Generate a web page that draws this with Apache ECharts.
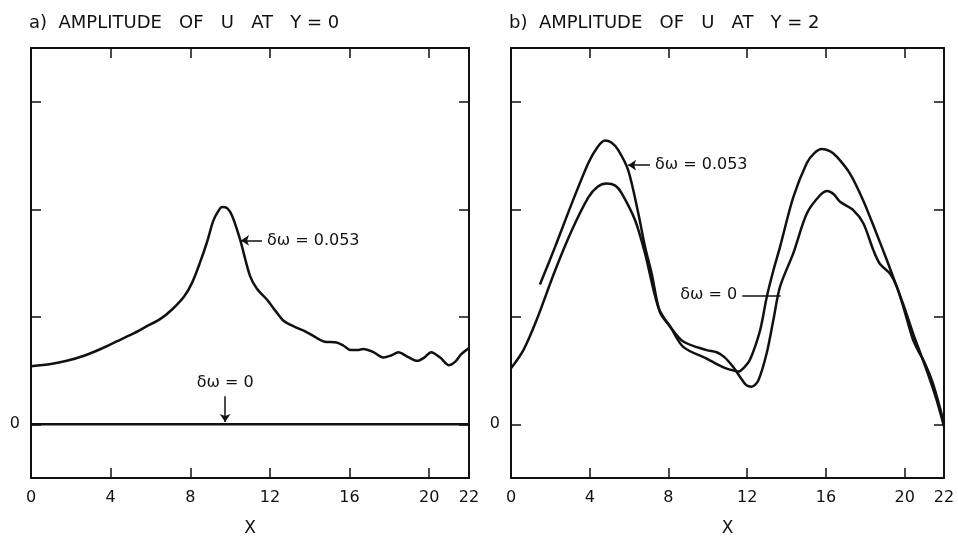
<!DOCTYPE html>
<html>
<head>
<meta charset="utf-8">
<script src="https://cdn.jsdelivr.net/npm/echarts@6/dist/echarts.min.js"></script>
<style>
    html, body { margin: 0; padding: 0; background: #fff; }
    #chart { width: 958px; height: 539px; }
</style>
</head>
<body>
<div id="chart"></div>
<script>
// x tick labels and y ticks (shared by both panels)
const xTickValues = [0, 4, 8, 12, 16, 20];
const xLabelValues = [0, 4, 8, 12, 16, 20, 22];
const yTickValues = [0, 1, 2, 3];
const yLabelValues = [0];

// a) amplitude of U at Y=0
const aX053 = [0, 1, 1.8, 2.7, 3.5, 4.3, 5.1, 5.8, 6.5, 7.1, 7.7, 8.1, 8.5, 8.85, 9.15, 9.4, 9.6, 9.85, 10.1, 10.5, 11.0, 11.35, 11.85, 12.3, 12.7, 13.2, 13.7, 14.2, 14.7, 15.35, 15.7, 16.05, 16.4, 16.7, 17.2, 17.7, 18.1, 18.45, 18.9, 19.4, 19.75, 20.1, 20.55, 21.0, 21.3, 21.6, 22];
const aY053 = [0.54, 0.56, 0.59, 0.64, 0.70, 0.77, 0.84, 0.91, 0.98, 1.07, 1.19, 1.32, 1.51, 1.70, 1.89, 1.98, 2.02, 2.01, 1.94, 1.72, 1.38, 1.26, 1.16, 1.05, 0.96, 0.91, 0.87, 0.82, 0.77, 0.76, 0.73, 0.69, 0.69, 0.70, 0.67, 0.62, 0.64, 0.67, 0.63, 0.59, 0.62, 0.67, 0.62, 0.55, 0.58, 0.65, 0.71];
const aX0 = [0, 22];
const aY0 = [0, 0];

// b) amplitude of U at Y=2
const bX053 = [1.47, 2.24, 3.08, 3.93, 4.4, 4.78, 5.1, 5.45, 5.96, 6.47, 6.81, 7.15, 7.57, 8.08, 8.75, 9.94, 10.79, 11.3, 11.55, 11.8, 12.14, 12.65, 12.99, 13.33, 13.67, 14.34, 15.03, 15.4, 15.79, 16.2, 16.55, 17.23, 17.9, 18.58, 19.09, 19.6, 20.0, 20.4, 20.8, 21.2, 21.6, 22];
const bY053 = [1.30, 1.65, 2.05, 2.43, 2.58, 2.64, 2.62, 2.55, 2.36, 1.96, 1.65, 1.40, 1.04, 0.91, 0.72, 0.61, 0.53, 0.50, 0.49, 0.52, 0.60, 0.87, 1.18, 1.43, 1.65, 2.11, 2.43, 2.52, 2.56, 2.54, 2.49, 2.33, 2.08, 1.77, 1.53, 1.28, 1.08, 0.86, 0.66, 0.46, 0.24, -0.02];
const bX0 = [0, 0.63, 1.3, 2.24, 3.08, 3.93, 4.4, 4.86, 5.3, 5.62, 6.3, 6.81, 7.48, 8.08, 8.75, 9.94, 10.45, 10.87, 11.3, 11.64, 11.98, 12.23, 12.57, 12.99, 13.33, 13.67, 14.34, 15.03, 15.7, 16.07, 16.4, 16.72, 17.4, 17.9, 18.41, 18.75, 19.26, 19.6, 20.0, 20.4, 20.7, 21.0, 21.4, 21.8, 22];
const bY0 = [0.52, 0.69, 0.97, 1.43, 1.80, 2.11, 2.21, 2.24, 2.22, 2.15, 1.90, 1.59, 1.09, 0.91, 0.77, 0.69, 0.67, 0.62, 0.53, 0.44, 0.36, 0.35, 0.41, 0.66, 0.97, 1.28, 1.59, 1.96, 2.13, 2.17, 2.14, 2.07, 1.99, 1.87, 1.62, 1.49, 1.40, 1.28, 1.05, 0.80, 0.68, 0.58, 0.40, 0.15, 0];

const FONT = 'DejaVu Sans';
const INK = '#111';

function pairs(xs, ys) {
    return xs.map((x, i) => [x, ys[i]]);
}

// 注释箭头
function pointer(from, to, text, withArrow) {
    return {
        silent: true,
        animation: false,
        symbol: ['none', withArrow ? 'arrow' : 'none'],
        symbolSize: 8,
        lineStyle: { color: INK, width: 1.5, type: 'solid' },
        label: {
            show: true,
            position: 'start',
            distance: 5,
            formatter: text,
            color: INK,
            fontFamily: FONT,
            fontSize: 16
        },
        data: [[{ coord: from }, { coord: to }]]
    };
}

function xAxes(gridIndex) {
    const base = {
        gridIndex: gridIndex,
        type: 'value',
        min: 0,
        max: 22,
        splitLine: { show: false },
        axisLine: { show: true, onZero: false, lineStyle: { color: INK, width: 2 } },
        axisTick: { show: true, inside: true, length: 10, customValues: xTickValues, lineStyle: { color: INK, width: 1.5 } }
    };
    return [
        Object.assign({}, base, {
            position: 'bottom',
            name: 'X',
            nameLocation: 'middle',
            nameGap: 42,
            nameTextStyle: { color: INK, fontFamily: FONT, fontSize: 17 },
            axisLabel: { show: true, customValues: xLabelValues, margin: 12, color: INK, fontFamily: FONT, fontSize: 16 }
        }),
        Object.assign({}, base, { position: 'top', axisLabel: { show: false } })
    ];
}

function yAxes(gridIndex) {
    const base = {
        gridIndex: gridIndex,
        type: 'value',
        min: -0.5,
        max: 3.5,
        splitLine: { show: false },
        axisLine: { show: true, onZero: false, lineStyle: { color: INK, width: 2 } },
        axisTick: { show: true, inside: true, length: 10, customValues: yTickValues, lineStyle: { color: INK, width: 1.5 } }
    };
    return [
        Object.assign({}, base, {
            position: 'left',
            axisLabel: { show: true, customValues: yLabelValues, margin: 11, color: INK, fontFamily: FONT, fontSize: 16 }
        }),
        Object.assign({}, base, { position: 'right', axisLabel: { show: false } })
    ];
}

function curve(name, xAxisIndex, yAxisIndex, xs, ys, markLine) {
    return {
        name: name,
        type: 'line',
        xAxisIndex: xAxisIndex,
        yAxisIndex: yAxisIndex,
        data: pairs(xs, ys),
        smooth: 0.3,
        showSymbol: false,
        lineStyle: { color: INK, width: 2.5 },
        animation: false,
        markLine: markLine
    };
}

const myChart = echarts.init(document.getElementById('chart'), null, { renderer: 'canvas' });

const titleStyle = { color: INK, fontFamily: FONT, fontSize: 18, fontWeight: 'normal' };

const option = {
    backgroundColor: '#fff',
    animation: false,
    title: [
        { text: 'a)  AMPLITUDE   OF   U   AT   Y = 0', left: 24, top: 9, textStyle: titleStyle },
        { text: 'b)  AMPLITUDE   OF   U   AT   Y = 2', left: 504, top: 9, textStyle: titleStyle }
    ],
    grid: [
        { left: 31, right: 489, top: 48, bottom: 61, containLabel: false, outerBoundsMode: 'none' },
        { left: 511, right: 14, top: 48, bottom: 61, containLabel: false, outerBoundsMode: 'none' }
    ],
    xAxis: xAxes(0).concat(xAxes(1)),
    yAxis: yAxes(0).concat(yAxes(1)),
    series: [
        curve('a 0.053', 0, 0, aX053, aY053, pointer([11.6, 1.71], [10.55, 1.71], 'δω = 0.053', true)),
        curve('a 0', 0, 0, aX0, aY0, pointer([9.75, 0.26], [9.75, 0.02], 'δω = 0', true)),
        curve('b 0.053', 2, 2, bX053, bY053, pointer([7.06, 2.41], [5.95, 2.41], 'δω = 0.053', true)),
        curve('b 0', 2, 2, bX0, bY0, pointer([11.75, 1.2], [13.7, 1.2], 'δω = 0', false))
    ]
};

// 绘制图表
myChart.setOption(option);
</script>
</body>
</html>
